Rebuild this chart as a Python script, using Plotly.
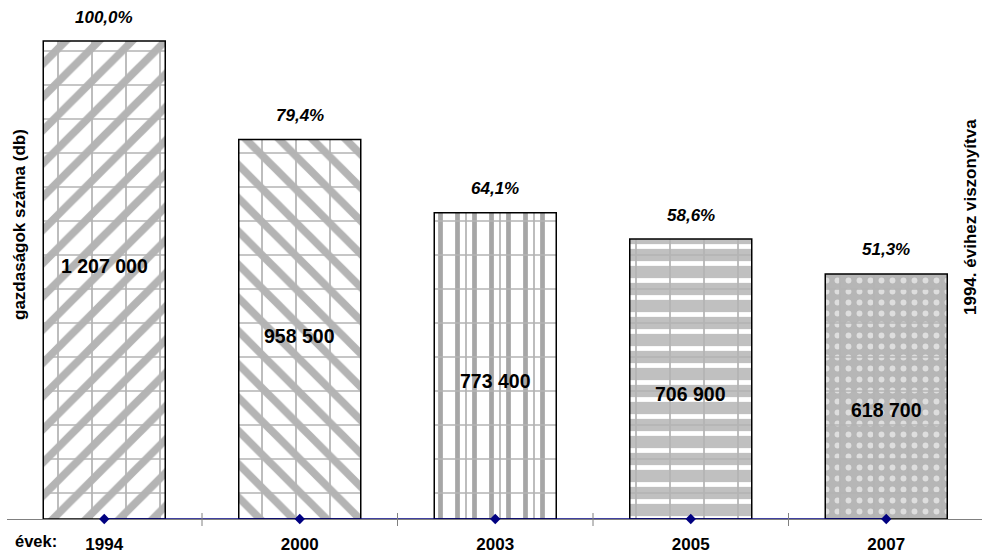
import plotly.graph_objects as go

# Number of farms per survey year
years = ["1994", "2000", "2003", "2005", "2007"]
farms = [1207000, 958500, 773400, 706900, 618700]
# Flat marker series drawn along the base of the chart
base_series = [0, 0, 0, 0, 0]

# Share relative to 1994, in percent
share = [v / farms[0] * 100 for v in farms]

FONT = "Liberation Sans"
x_idx = list(range(len(years)))

# Pixel geometry of the plotting area
W, H = 982, 553
M_L, M_B = 7, 34
PLOT_H = H - M_B
BAR_TOP_PX = 41
y_max = farms[0] * PLOT_H / (PLOT_H - BAR_TOP_PX)
px_per_cat = 195.5
x_lo = -0.5 + (M_L - 6.5) / px_per_cat
x_hi = x_lo + (W - M_L) / px_per_cat

# Vertical placement of the value labels, as a fraction of each bar's height
inner_label_frac = [0.53, 0.482, 0.45, 0.448, 0.445]

fig = go.Figure()

# Textured bars
fig.add_trace(go.Bar(
    x=x_idx, y=farms, width=0.624,
    marker=dict(
        color="white",
        line=dict(width=0),
        pattern=dict(
            shape=["/", "\\", "|", "-", "."],
            fgcolor=["#b4b4b4", "#b4b4b4", "#a6a6a6", "#ffffff", "#dedede"],
            bgcolor=["#ffffff", "#ffffff", "#ffffff", "#c0c0c0", "#b6b6b6"],
            size=[23.5, 23.5, 17, 17, 11],
            solidity=[0.33, 0.33, 0.28, 0.28, 0.22],
            fillmode="replace",
        ),
    ),
    hoverinfo="skip", showlegend=False,
))

# Grid texture laid over each bar, with the bar outline
fig.add_trace(go.Bar(
    x=x_idx, y=farms, width=0.624,
    marker=dict(
        color="rgba(0,0,0,0)",
        line=dict(width=1.5, color="#000000"),
        pattern=dict(
            shape="+", fgcolor="#b4b4b4", bgcolor="rgba(0,0,0,0)",
            size=34, solidity=0.1, fillmode="replace",
        ),
    ),
    hoverinfo="skip", showlegend=False,
))

# Navy line with diamond markers along the base
fig.add_trace(go.Scatter(
    x=x_idx, y=base_series, mode="lines+markers",
    line=dict(color="#000080", width=1.5),
    marker=dict(symbol="diamond", size=8, color="#000080"),
    cliponaxis=False, hoverinfo="skip", showlegend=False,
))

annotations = []
for i, v in enumerate(farms):
    annotations.append(dict(
        x=i, y=v * inner_label_frac[i], xref="x", yref="y",
        text=f"{v:,}".replace(",", " "), showarrow=False,
        font=dict(family=FONT, size=19.5, color="black", weight="bold"),
        xanchor="center", yanchor="middle",
    ))
    annotations.append(dict(
        x=i, y=v, xref="x", yref="y", yshift=24,
        text=f"{share[i]:.1f}%".replace(".", ","), showarrow=False,
        font=dict(family=FONT, size=17, color="black", weight="bold", style="italic"),
        xanchor="center", yanchor="middle",
    ))

annotations += [
    dict(x=(13 - M_L) / (W - M_L), y=-(541 - PLOT_H) / PLOT_H, xref="paper", yref="paper",
         text="évek:", showarrow=False, xanchor="left", yanchor="middle",
         font=dict(family=FONT, size=16.5, color="black", weight="bold")),
    dict(x=(20 - M_L) / (W - M_L), y=1 - 225 / PLOT_H, xref="paper", yref="paper",
         text="gazdaságok száma (db)", textangle=-90, showarrow=False,
         xanchor="center", yanchor="middle",
         font=dict(family=FONT, size=17, color="black", weight="bold")),
    dict(x=(970 - M_L) / (W - M_L), y=1 - 217 / PLOT_H, xref="paper", yref="paper",
         text="1994. évihez viszonyítva", textangle=-90, showarrow=False,
         xanchor="center", yanchor="middle",
         font=dict(family=FONT, size=17, color="black", weight="bold")),
]

# Category boundary ticks crossing the axis line
shapes = []
for i in range(len(years)):
    xb = i - 0.5
    shapes.append(dict(type="line", xref="x", yref="paper", x0=xb, x1=xb,
                       y0=-7 / PLOT_H, y1=6 / PLOT_H,
                       line=dict(color="#808080", width=1)))

fig.update_layout(
    width=W, height=H,
    margin=dict(l=M_L, r=0, t=0, b=M_B),
    paper_bgcolor="white", plot_bgcolor="white",
    barmode="overlay",
    xaxis=dict(
        range=[x_lo, x_hi], tickvals=x_idx, ticktext=years,
        ticks="", showgrid=False, zeroline=False,
        showline=True, linecolor="#808080", linewidth=1,
        layer="below traces", ticklabelstandoff=10,
        tickfont=dict(family=FONT, size=17, color="black", weight="bold"),
    ),
    yaxis=dict(range=[0, y_max], visible=False, showgrid=False, zeroline=False),
    annotations=annotations, shapes=shapes,
)

fig.write_html("out.html")
